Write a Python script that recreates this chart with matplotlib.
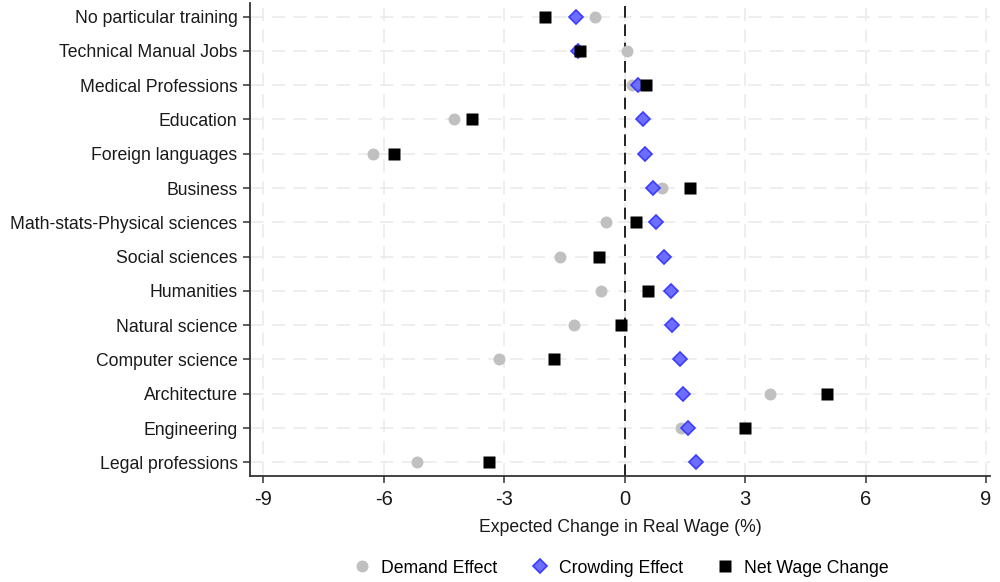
import matplotlib
matplotlib.use("Agg")
import matplotlib.pyplot as plt
from matplotlib import font_manager

categories = ["No particular training", "Technical Manual Jobs", "Medical Professions",
              "Education", "Foreign languages", "Business", "Math-stats-Physical sciences",
              "Social sciences", "Humanities", "Natural science", "Computer science",
              "Architecture", "Engineering", "Legal professions"]
demand = [-0.75, 0.06, 0.18, -4.25, -6.26, 0.94, -0.47, -1.62, -0.58, -1.27, -3.13, 3.61, 1.41, -5.16]
crowding = [-1.22, -1.16, 0.33, 0.46, 0.51, 0.70, 0.77, 0.98, 1.15, 1.18, 1.39, 1.45, 1.58, 1.79]
net = [-1.99, -1.10, 0.54, -3.81, -5.75, 1.63, 0.29, -0.65, 0.57, -0.08, -1.75, 5.05, 3.00, -3.39]
xticks = [-9, -6, -3, 0, 3, 6, 9]

names = {f.name for f in font_manager.fontManager.ttflist}
base = "Liberation Sans" if "Liberation Sans" in names else "DejaVu Sans"
plt.rcParams['font.family'] = [base, 'DejaVu Sans']

fig = plt.figure(figsize=(10, 5.82), dpi=100)
ax = fig.add_axes([0.25, 0.182, 0.74, 0.813])

y = list(range(1, len(categories) + 1))
grid_kw = dict(color="#ebebeb", lw=1.2, dashes=(8, 5), zorder=0)
for t in xticks:
    ax.axvline(t, **grid_kw)
for yy in y:
    ax.axhline(yy, **grid_kw)
ax.axvline(0, color="black", lw=1.2, dashes=(7, 4), zorder=1)

ax.plot(demand, y, 'o', ls='none', ms=8.6, color="#c0c0c0", mec="none", zorder=3, label="Demand Effect")
ax.plot(crowding, y, 'D', ls='none', ms=7, mfc="#6d6dff", mec="#3c3cff", mew=1.2, zorder=4, label="Crowding Effect")
ax.plot(net, y, 's', ls='none', ms=8.6, color="black", mec="none", zorder=5, label="Net Wage Change")

ax.set_xlim(-9.33, 9.1)
ax.set_ylim(14.4, 0.6)
ax.set_yticks(y)
ax.set_yticklabels(categories, fontsize=12.7, color="#1a1a1a")
ax.set_xticks(xticks)
ax.set_xticklabels([str(t) for t in xticks], fontsize=14.5, color="#1a1a1a")
for s in ["top", "right"]:
    ax.spines[s].set_visible(False)
for s in ["left", "bottom"]:
    ax.spines[s].set_color("#333333")
    ax.spines[s].set_linewidth(1.3)
ax.tick_params(axis='both', direction='out', length=5, width=1.1, color="#333333")
ax.tick_params(axis='y', pad=4)
ax.tick_params(axis='x', pad=5)
ax.set_xlabel("Expected Change in Real Wage (%)", fontsize=12.7, color="#1a1a1a", labelpad=7)

fig.legend(loc="center", bbox_to_anchor=(0.62, 0.024), ncol=3, frameon=False, fontsize=12.7,
           handletextpad=0.48, columnspacing=1.8, handlelength=1.2)

fig.savefig("out.png", dpi=100, facecolor="white")
